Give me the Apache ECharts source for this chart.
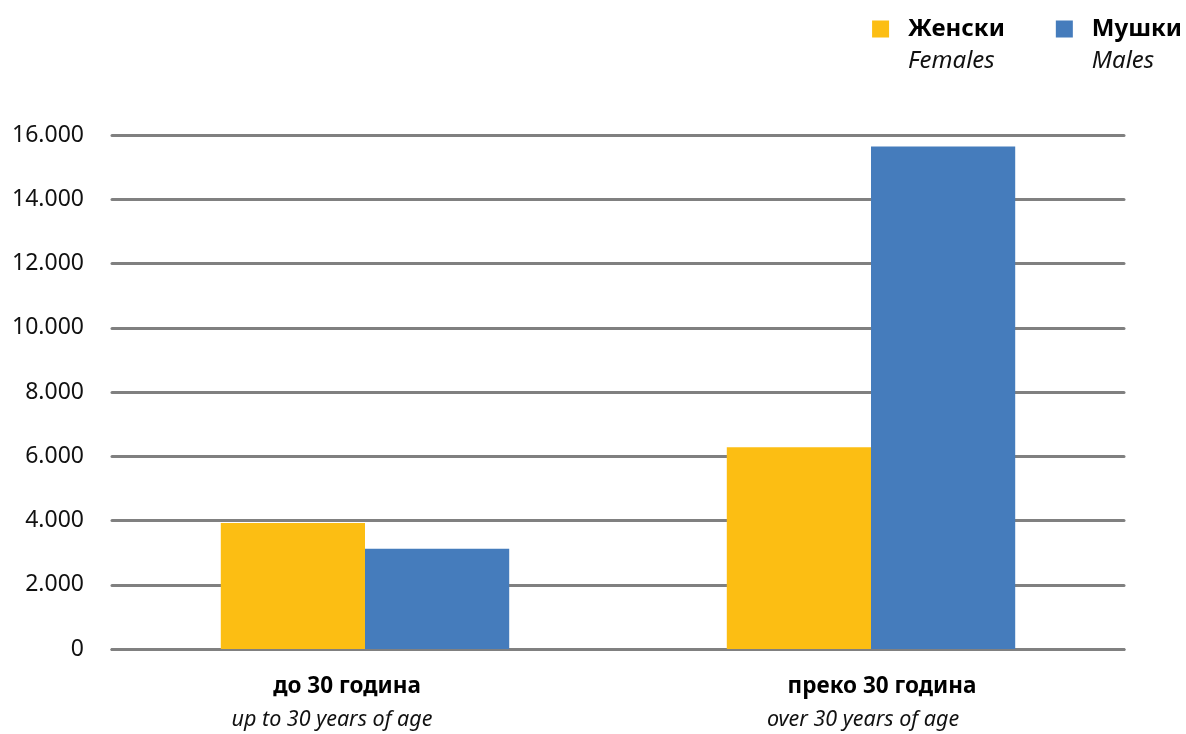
<!DOCTYPE html>
<html>
<head>
<meta charset="utf-8">
<script src="https://cdn.jsdelivr.net/npm/echarts@6/dist/echarts.min.js"></script>
<style>
  html, body { margin: 0; padding: 0; background: #fff; }
  #chart { width: 1186px; height: 734px; }
</style>
</head>
<body>
<div id="chart"></div>
<script>
// categories (mk / en)
const categories = ["до 30 година", "преко 30 година"];
const categoriesEn = ["up to 30 years of age", "over 30 years of age"];
// series
const seriesNames = ["Женски", "Мушки"];
const seriesNamesEn = ["Females", "Males"];
const females = [3920, 6280];
const males = [3120, 15640];
// y axis ticks
const yTicks = [0, 2000, 4000, 6000, 8000, 10000, 12000, 14000, 16000];

const FONT = "Noto Sans";
const fmtThousands = (v) => (v === 0 ? "0" : Math.floor(v / 1000) + "." + String(v % 1000).padStart(3, "0"));

// label styles; the two category labels sit a bit off-centre in the original
const boldLbl = { fontFamily: FONT, fontWeight: "bold", fontSize: 22.5, lineHeight: 33, color: "#000" };
const itLbl = { fontFamily: FONT, fontStyle: "italic", fontSize: 21.5, lineHeight: 33, color: "#111" };

const chart = echarts.init(document.getElementById("chart"));
chart.setOption({
  animation: false,
  textStyle: { fontFamily: FONT, color: "#111" },
  grid: { left: 112, right: 62, top: 135, bottom: 85 },
  legend: {
    right: 4,
    top: 17,
    padding: 0,
    itemGap: 51,
    itemWidth: 17,
    itemHeight: 49,
    // square on top, invisible point below so the text lines up with it
    icon: "path://M0,0H17V17H0ZM0,49L0,49Z",
    data: seriesNames,
    formatter: (name) => "{b|" + name + "}\n{i|" + seriesNamesEn[seriesNames.indexOf(name)] + "}",
    textStyle: {
      rich: {
        b: { fontFamily: FONT, fontWeight: "bold", fontSize: 24, lineHeight: 32, color: "#000", padding: [0, 0, 0, 14] },
        i: { fontFamily: FONT, fontStyle: "italic", fontSize: 24, lineHeight: 32, color: "#111", padding: [0, 0, 0, 14] }
      }
    }
  },
  xAxis: {
    type: "category",
    data: categories,
    axisTick: { show: false },
    axisLine: { show: true, lineStyle: { color: "#808080", width: 3, cap: "round" } },
    axisLabel: {
      margin: 21,
      formatter: (v, i) => "{b" + i + "|" + v + "}\n{i" + i + "|" + categoriesEn[i] + "}",
      rich: {
        b0: Object.assign({}, boldLbl, { padding: [0, 36, 0, 0] }),
        i0: Object.assign({}, itLbl, { padding: [0, 66, 0, 0] }),
        b1: Object.assign({}, boldLbl, { padding: [0, 0, 0, 22] }),
        i1: Object.assign({}, itLbl, { padding: [0, 16, 0, 0] })
      }
    }
  },
  yAxis: {
    type: "value",
    min: yTicks[0],
    max: yTicks[yTicks.length - 1],
    interval: 2000,
    axisLine: { show: false },
    axisTick: { show: false },
    axisLabel: {
      margin: 28,
      fontSize: 23,
      color: "#111",
      formatter: fmtThousands
    },
    splitLine: { show: true, lineStyle: { color: "#808080", width: 3, cap: "round" } }
  },
  series: [
    {
      name: seriesNames[0],
      type: "bar",
      data: females,
      barGap: "0%",
      barCategoryGap: "43%",
      itemStyle: { color: "#FCBE13" }
    },
    {
      name: seriesNames[1],
      type: "bar",
      data: males,
      itemStyle: { color: "#457CBC" }
    }
  ]
});
</script>
</body>
</html>
